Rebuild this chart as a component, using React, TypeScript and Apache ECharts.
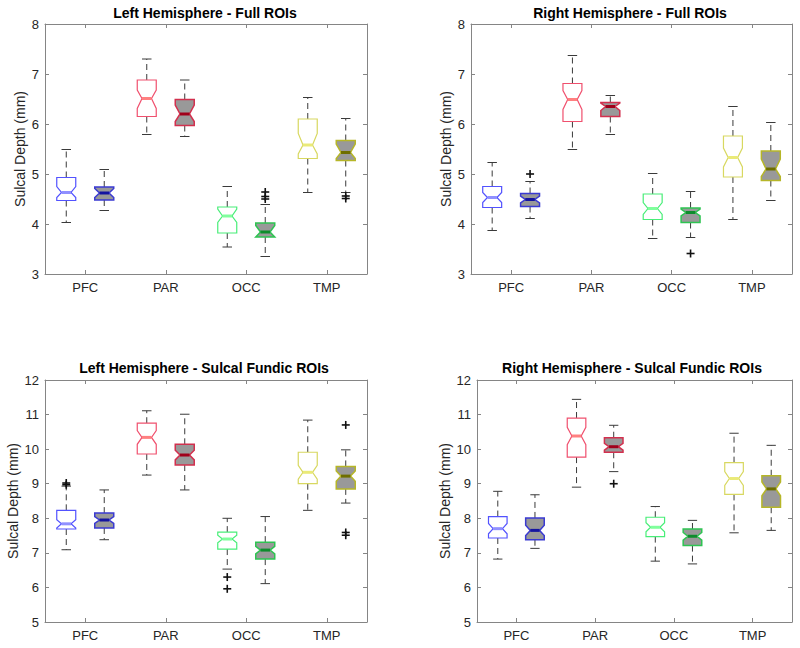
import React, { useEffect, useRef } from "react";
import * as echarts from "echarts";

const categories = ["PFC", "PAR", "OCC", "TMP"];
const panelTitles = [
  "Left Hemisphere - Full ROIs",
  "Right Hemisphere - Full ROIs",
  "Left Hemisphere - Sulcal Fundic ROIs",
  "Right Hemisphere - Sulcal Fundic ROIs",
];
const yAxisName = "Sulcal Depth (mm)";
const yRanges = [
  [3, 8],
  [3, 8],
  [5, 12],
  [5, 12],
];

// each box: [categoryIndex, min, q1, notchLow, median, notchHigh, q3, max]
const leftFullOpen = [
  [0, 4.03, 4.47, 4.53, 4.63, 4.75, 4.93, 5.49],
  [1, 5.79, 6.15, 6.31, 6.51, 6.68, 6.88, 7.3],
  [2, 3.54, 3.82, 4.03, 4.16, 4.3, 4.34, 4.75],
  [3, 4.63, 5.31, 5.4, 5.58, 5.81, 6.1, 6.53],
];
const leftFullFilled = [
  [0, 4.27, 4.48, 4.53, 4.62, 4.71, 4.74, 5.09],
  [1, 5.75, 5.97, 6.05, 6.2, 6.38, 6.49, 6.88],
  [2, 3.35, 3.74, 3.74, 3.84, 3.97, 4.02, 4.39],
  [3, 4.63, 5.27, 5.31, 5.43, 5.6, 5.67, 6.11],
];
const rightFullOpen = [
  [0, 3.87, 4.33, 4.43, 4.53, 4.63, 4.75, 5.23],
  [1, 5.49, 6.05, 6.29, 6.49, 6.67, 6.81, 7.37],
  [2, 3.71, 4.09, 4.19, 4.31, 4.43, 4.6, 5.01],
  [3, 4.09, 4.94, 5.14, 5.33, 5.52, 5.76, 6.35],
];
const rightFullFilled = [
  [0, 4.11, 4.35, 4.42, 4.49, 4.56, 4.61, 4.85],
  [1, 5.79, 6.15, 6.27, 6.35, 6.42, 6.43, 6.57],
  [2, 3.73, 4.03, 4.16, 4.23, 4.3, 4.32, 4.65],
  [3, 4.47, 4.87, 4.95, 5.1, 5.3, 5.46, 6.03],
];
const leftFundicOpen = [
  [0, 7.09, 7.69, 7.72, 7.84, 7.96, 8.23, 8.93],
  [1, 9.25, 9.86, 10.14, 10.34, 10.54, 10.75, 11.11],
  [2, 6.53, 7.11, 7.29, 7.4, 7.51, 7.6, 8.0],
  [3, 8.23, 9.0, 9.13, 9.33, 9.53, 9.91, 10.84],
];
const leftFundicFilled = [
  [0, 7.38, 7.72, 7.85, 7.95, 8.05, 8.15, 8.82],
  [1, 8.82, 9.54, 9.69, 9.83, 9.97, 10.14, 11.01],
  [2, 6.11, 6.82, 6.97, 7.08, 7.19, 7.31, 8.05],
  [3, 8.44, 8.85, 9.07, 9.22, 9.37, 9.5, 9.98],
];
const rightFundicOpen = [
  [0, 6.82, 7.43, 7.55, 7.7, 7.85, 8.05, 8.78],
  [1, 8.9, 9.77, 10.13, 10.38, 10.63, 10.9, 11.44],
  [2, 6.76, 7.47, 7.61, 7.74, 7.87, 8.03, 8.34],
  [3, 7.58, 8.69, 8.95, 9.15, 9.35, 9.61, 10.46],
];
const rightFundicFilled = [
  [0, 7.13, 7.38, 7.5, 7.65, 7.8, 8.01, 8.68],
  [1, 9.35, 9.91, 9.97, 10.07, 10.17, 10.33, 10.69],
  [2, 6.68, 7.21, 7.37, 7.48, 7.59, 7.69, 7.94],
  [3, 7.65, 8.32, 8.65, 8.85, 9.05, 9.23, 10.11],
];

// outliers: [categoryIndex, side (0 open, 1 filled), value]
const leftFullOutliers = [
  [2, 1, 4.64],
  [2, 1, 4.55],
  [2, 1, 4.5],
  [3, 1, 4.56],
  [3, 1, 4.51],
];
const rightFullOutliers = [
  [0, 1, 5.0],
  [2, 1, 3.41],
];
const leftFundicOutliers = [
  [0, 0, 9.02],
  [0, 0, 8.97],
  [2, 0, 6.3],
  [2, 0, 5.96],
  [3, 1, 10.7],
  [3, 1, 7.59],
  [3, 1, 7.51],
];
const rightFundicOutliers = [[1, 1, 9.0]];

const openBoxes = [leftFullOpen, rightFullOpen, leftFundicOpen, rightFundicOpen];
const filledBoxes = [leftFullFilled, rightFullFilled, leftFundicFilled, rightFundicFilled];
const outlierSets = [leftFullOutliers, rightFullOutliers, leftFundicOutliers, rightFundicOutliers];

const openEdge = ["#5252ff", "#f0506e", "#48ee78", "#d8d860"];
const openMedian = ["#9090ff", "#ff8080", "#80ff9c", "#eaea78"];
const filledEdge = ["#3a3ad2", "#d2304e", "#2ec452", "#b6b628"];
const filledMedian = ["#1414a0", "#a0001a", "#0e8c2c", "#6e6e00"];
const grayFill = "#999999";

const FONT = '"Liberation Sans", Arial, Helvetica, sans-serif';
const AXIS_COLOR = "#858585";
const TEXT_COLOR = "#262626";

const grids = [
  { left: 45, top: 24, width: 322, height: 250 },
  { left: 471, top: 24, width: 321, height: 250 },
  { left: 45, top: 380, width: 322, height: 242 },
  { left: 477, top: 380, width: 315, height: 242 },
];
const nameGaps = [18, 18, 25, 25];
const titlePos = [
  [205, 13],
  [630, 13],
  [204, 368],
  [632, 368],
];

function boxRenderer(side: number, filled: boolean) {
  return (params: any, api: any) => {
    const ci = api.value(0);
    const vmin = api.value(1);
    const q1 = api.value(2);
    const nlo = api.value(3);
    const med = api.value(4);
    const nhi = api.value(5);
    const q3 = api.value(6);
    const vmax = api.value(7);
    const band = api.size([1, 0])[0];
    const base = api.coord([ci, med]);
    const cx = base[0] + (side === 0 ? -1 : 1) * band * 0.236;
    const hw = band * 0.118;
    const y = (v: number) => api.coord([ci, v])[1];
    const L = cx - hw;
    const R = cx + hw;
    const n = hw / 2;
    const edge = filled ? filledEdge[ci] : openEdge[ci];
    const medColor = filled ? filledMedian[ci] : openMedian[ci];
    const dash = { stroke: "#3a3a3a", lineWidth: 1, lineDash: [6, 4] };
    const cap = { stroke: "#3a3a3a", lineWidth: 1 };
    return {
      type: "group",
      children: [
        { type: "line", shape: { x1: cx, y1: y(q3), x2: cx, y2: y(vmax) }, style: dash },
        { type: "line", shape: { x1: cx, y1: y(q1), x2: cx, y2: y(vmin) }, style: dash },
        { type: "line", shape: { x1: cx - hw / 2, y1: y(vmax), x2: cx + hw / 2, y2: y(vmax) }, style: cap },
        { type: "line", shape: { x1: cx - hw / 2, y1: y(vmin), x2: cx + hw / 2, y2: y(vmin) }, style: cap },
        {
          type: "polygon",
          shape: {
            points: [
              [L, y(q3)],
              [R, y(q3)],
              [R, y(nhi)],
              [R - n, y(med)],
              [R, y(nlo)],
              [R, y(q1)],
              [L, y(q1)],
              [L, y(nlo)],
              [L + n, y(med)],
              [L, y(nhi)],
            ],
          },
          style: {
            fill: filled ? grayFill : "#ffffff",
            stroke: edge,
            lineWidth: filled ? 1.5 : 1.2,
          },
        },
        {
          type: "line",
          shape: { x1: L + n, y1: y(med), x2: R - n, y2: y(med) },
          style: { stroke: medColor, lineWidth: 3 },
        },
      ],
    };
  };
}

function outlierRenderer(params: any, api: any) {
  const ci = api.value(0);
  const side = api.value(1);
  const v = api.value(2);
  const band = api.size([1, 0])[0];
  const p = api.coord([ci, v]);
  const cx = p[0] + (side === 0 ? -1 : 1) * band * 0.236;
  const cy = p[1];
  const s = 4;
  const st = { stroke: "#111111", lineWidth: 1.6 };
  return {
    type: "group",
    children: [
      { type: "line", shape: { x1: cx - s, y1: cy, x2: cx + s, y2: cy }, style: st },
      { type: "line", shape: { x1: cx, y1: cy - s, x2: cx, y2: cy + s }, style: st },
    ],
  };
}

function buildOption() {
  const xAxis: any[] = [];
  const yAxis: any[] = [];
  const series: any[] = [];
  const graphic: any[] = [];
  for (let i = 0; i < 4; i++) {
    const tick = { show: true, inside: true, length: 4, alignWithLabel: true, lineStyle: { color: AXIS_COLOR } };
    const line = { show: true, onZero: false, lineStyle: { color: AXIS_COLOR, width: 1 } };
    xAxis.push({
      gridIndex: i,
      type: "category",
      data: categories,
      position: "bottom",
      boundaryGap: true,
      axisLine: line,
      axisTick: tick,
      axisLabel: { color: TEXT_COLOR, fontSize: 13, fontFamily: FONT, margin: 7 },
      splitLine: { show: false },
    });
    xAxis.push({
      gridIndex: i,
      type: "category",
      data: categories,
      position: "top",
      boundaryGap: true,
      axisLine: line,
      axisTick: tick,
      axisLabel: { show: false },
      splitLine: { show: false },
    });
    const [mn, mx] = yRanges[i];
    yAxis.push({
      gridIndex: i,
      type: "value",
      min: mn,
      max: mx,
      interval: 1,
      position: "left",
      name: yAxisName,
      nameLocation: "middle",
      nameGap: nameGaps[i],
      nameTextStyle: { color: TEXT_COLOR, fontSize: 14, fontFamily: FONT },
      axisLine: line,
      axisTick: { show: true, inside: true, length: 4, lineStyle: { color: AXIS_COLOR } },
      axisLabel: { color: TEXT_COLOR, fontSize: 13, fontFamily: FONT, margin: 6 },
      splitLine: { show: false },
    });
    yAxis.push({
      gridIndex: i,
      type: "value",
      min: mn,
      max: mx,
      interval: 1,
      position: "right",
      axisLine: line,
      axisTick: { show: true, inside: true, length: 4, lineStyle: { color: AXIS_COLOR } },
      axisLabel: { show: false },
      splitLine: { show: false },
    });
    const encode = { x: 0, y: [1, 2, 3, 4, 5, 6, 7] };
    series.push({
      type: "custom",
      xAxisIndex: 2 * i,
      yAxisIndex: 2 * i,
      renderItem: boxRenderer(0, false),
      encode,
      data: openBoxes[i],
      clip: false,
    });
    series.push({
      type: "custom",
      xAxisIndex: 2 * i,
      yAxisIndex: 2 * i,
      renderItem: boxRenderer(1, true),
      encode,
      data: filledBoxes[i],
      clip: false,
    });
    series.push({
      type: "custom",
      xAxisIndex: 2 * i,
      yAxisIndex: 2 * i,
      renderItem: outlierRenderer,
      encode: { x: 0, y: 2 },
      data: outlierSets[i],
      clip: false,
    });
    graphic.push({
      type: "text",
      x: titlePos[i][0],
      y: titlePos[i][1],
      style: {
        text: panelTitles[i],
        font: `bold 14px ${FONT}`,
        fill: "#000000",
        align: "center",
        verticalAlign: "middle",
        textAlign: "center",
        textVerticalAlign: "middle",
      },
    });
  }
  return {
    animation: false,
    backgroundColor: "#ffffff",
    grid: grids.map((g) => ({ ...g, containLabel: false })),
    xAxis,
    yAxis,
    series,
    graphic,
  };
}

export default function App() {
  const ref = useRef<HTMLDivElement>(null);
  useEffect(() => {
    document.body.style.margin = "0";
    if (!ref.current) return;
    const chart = echarts.init(ref.current, undefined, { renderer: "svg" });
    chart.setOption(buildOption() as any);
    return () => chart.dispose();
  }, []);
  return <div ref={ref} style={{ width: 800, height: 648 }} />;
}
